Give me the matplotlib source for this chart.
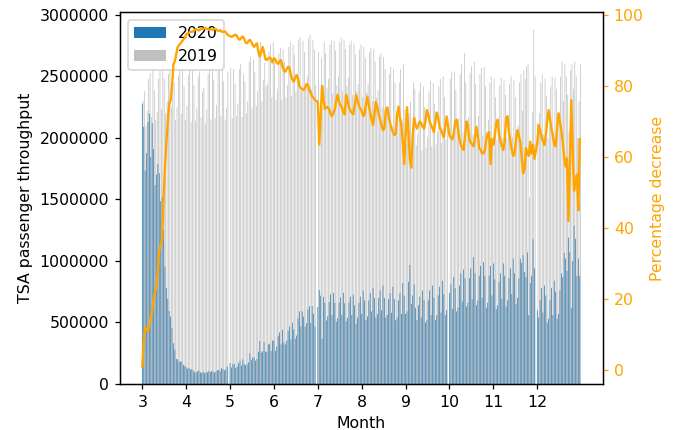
#!/usr/bin/env python
"""
TSA checkpoint throughput, 2020 against the same weekday of 2019,
with the percentage decrease on a second axis. Saves out.png.
"""

# importing libraries
import matplotlib
matplotlib.use("Agg")
import numpy as np
import pandas as pd
import matplotlib.pyplot as plt

# daily passengers in 2020 (thousands), one list per month
mar_2020 = [2280, 2090, 1736, 1877, 2130, 2199, 1845, 2120, 1909, 1617, 1703, 1788, 1714, 1486, 1519, 1258,
            954, 780, 693, 593, 548, 455, 331, 279, 204, 200, 180, 184, 180, 154, 146]
apr_2020 = [136, 124, 130, 118, 122, 108, 97, 95, 104, 109, 94, 91, 102, 88, 95, 96, 106, 97, 105, 102,
            93, 99, 112, 114, 104, 129, 120, 111, 120, 141]
may_2020 = [171, 134, 163, 163, 130, 140, 170, 190, 150, 200, 164, 152, 160, 176, 250, 193, 216, 215, 190, 204,
            262, 349, 254, 267, 341, 264, 261, 321, 327, 268, 353]
jun_2020 = [353, 268, 305, 391, 419, 322, 441, 338, 322, 351, 432, 467, 362, 498, 442, 369, 394, 532, 591, 470,
            590, 546, 466, 494, 606, 632, 496, 633, 572, 466]
jul_2020 = [626, 764, 718, 367, 708, 658, 516, 550, 666, 729, 561, 741, 658, 506, 534, 661, 705, 561, 741, 656,
            510, 538, 660, 710, 560, 727, 640, 490, 540, 660, 710]
aug_2020 = [570, 760, 680, 520, 550, 680, 740, 590, 780, 700, 540, 570, 700, 760, 600, 800, 700, 540, 560, 690,
            740, 580, 790, 690, 520, 540, 680, 740, 570, 820, 720]
sep_2020 = [570, 590, 830, 968, 650, 720, 810, 620, 520, 640, 710, 540, 760, 680, 500, 520, 680, 760, 560, 800,
            700, 520, 560, 720, 790, 580, 840, 730, 560, 600]
oct_2020 = [740, 810, 610, 870, 780, 590, 620, 800, 900, 670, 930, 860, 630, 660, 860, 940, 690, 1031, 900, 640,
            680, 880, 960, 700, 990, 880, 620, 660, 880, 960, 720]
nov_2020 = [980, 850, 610, 640, 830, 900, 690, 980, 880, 630, 680, 860, 940, 730, 1020, 900, 650, 700, 860, 1020,
            985, 1048, 910, 870, 1070, 560, 820, 880, 1177, 940]
dec_2020 = [600, 540, 680, 780, 580, 800, 720, 500, 530, 680, 780, 560, 840, 750, 530, 570, 760, 900, 870, 1066,
            1020, 920, 1190, 1070, 616, 1000, 1285, 1180, 880, 1020, 878]

# same weekday one year earlier (thousands)
mar_2019 = [2303, 2380, 2100, 2220, 2480, 2528, 2171, 2554, 2386, 2150, 2212, 2483, 2558, 2230, 2580, 2480,
            2200, 2300, 2520, 2560, 2250, 2560, 2450, 2146, 2250, 2500, 2550, 2200, 2571, 2420, 2150]
apr_2019 = [2260, 2510, 2560, 2130, 2550, 2430, 2140, 2240, 2500, 2540, 2170, 2380, 2410, 2120, 2230, 2520,
            2560, 2150, 2570, 2470, 2160, 2270, 2550, 2590, 2180, 2600, 2460, 2150, 2250, 2540]
may_2019 = [2570, 2160, 2560, 2440, 2180, 2280, 2560, 2600, 2170, 2520, 2460, 2200, 2300, 2620, 2660, 2240,
            2640, 2540, 2260, 2380, 2720, 2780, 2300, 2470, 2610, 2420, 2440, 2700, 2760, 2330, 2780]
jun_2019 = [2620, 2310, 2400, 2690, 2730, 2310, 2720, 2620, 2330, 2430, 2740, 2780, 2340, 2760, 2680, 2380,
            2480, 2800, 2820, 2380, 2790, 2700, 2410, 2500, 2810, 2840, 2400, 2800, 2720, 2430]
jul_2019 = [2700, 2090, 2650, 2250, 2780, 2690, 2410, 2480, 2760, 2800, 2360, 2790, 2710, 2430, 2500, 2780,
            2820, 2380, 2800, 2720, 2420, 2490, 2760, 2790, 2350, 2770, 2680, 2380, 2440, 2720, 2760]
aug_2019 = [2330, 2740, 2650, 2370, 2440, 2700, 2730, 2300, 2720, 2620, 2330, 2390, 2660, 2690, 2250, 2660,
            2560, 2200, 2250, 2520, 2580, 2100, 2560, 2450, 2080, 2150, 2450, 2560, 2150, 2600, 2230]
sep_2019 = [1950, 2050, 2200, 2300, 1800, 2450, 2400, 1940, 2030, 2380, 2450, 1900, 2420, 2250, 1920, 2010,
            2380, 2460, 1930, 2450, 2280, 1950, 2050, 2420, 2480, 1960, 2500, 2330, 1990, 2100]
oct_2019 = [2480, 2540, 2000, 2540, 2390, 2060, 2160, 2520, 2600, 2050, 2690, 2450, 2080, 2170, 2530, 2580,
            2030, 2620, 2440, 2070, 2180, 2520, 2570, 2020, 2580, 2420, 2050, 2150, 2450, 2500, 1980]
nov_2019 = [2480, 2330, 1990, 2080, 2430, 2490, 2000, 2470, 2350, 2000, 2100, 2440, 2500, 2010, 2470, 2330,
            1990, 2100, 2450, 2520, 2220, 2550, 2480, 2580, 2600, 1520, 1950, 2210, 2880, 2500]
dec_2019 = [2120, 2200, 2450, 2520, 2030, 2480, 2340, 2000, 2100, 2420, 2500, 2050, 2490, 2400, 2080, 2200,
            2500, 2620, 2300, 2600, 2500, 2350, 2050, 2550, 2600, 2400, 2620, 2500, 2000, 2300, 2600]

# percentage decrease
mar_pct = [1, 8, 12, 11.5, 11, 13, 15, 17, 20, 22, 23.5, 28, 34, 35, 37, 48, 57, 64, 70, 75, 76, 80, 86, 87,
           89, 91, 91.5, 92, 92.5, 93, 93.5]
apr_pct = [94.5, 94.8, 95, 95.3, 95.2, 95.4, 95.8, 96, 95.8, 95.6, 95.9, 96.1, 96, 96.3, 96.2, 96, 95.8, 96,
           95.9, 95.8, 96.1, 96, 95.6, 95.5, 95.7, 95.3, 95.2, 95.4, 95.1, 94.5]
may_pct = [94, 93.8, 94, 94.3, 94.4, 94, 93.2, 93, 93.6, 93.9, 93.2, 92.2, 92, 92.6, 93, 92.4, 91.5, 91, 91.6,
           92, 89.5, 88.3, 89.5, 91, 89.5, 87.5, 87.3, 87.8, 88, 87.6, 86.6]
jun_pct = [87.8, 87.5, 86.5, 86.2, 87, 87.3, 85.5, 84.3, 84, 84.8, 85.4, 85, 83, 81.8, 81.2, 82.2, 83.1, 82, 80,
           79.4, 79, 78.9, 79.5, 80.5, 80.3, 78.8, 78, 77, 76.6, 76]
jul_pct = [75.5, 63.5, 72, 80, 76, 73.5, 74, 74, 73.5, 72, 71.5, 72.5, 73.5, 76, 77.5, 75.5, 74.5, 74, 72.5, 72,
           77.5, 76, 74, 73, 72.5, 72, 74.5, 77.5, 76, 74.5, 73.5]
aug_pct = [73, 71.5, 72, 75, 77, 74.5, 72.5, 70.5, 69, 72, 75.5, 74, 72, 70.5, 69, 67.5, 68, 73, 74, 71.5, 69.5,
           68, 67, 66.2, 66.5, 72, 74.2, 71, 69, 64, 58]
sep_pct = [66, 74, 67, 59, 57, 66, 71, 69, 68, 69, 70, 69.5, 68.5, 68, 70, 73.2, 72, 70, 69, 68, 67, 70, 72.5,
           71, 68.5, 67.5, 66.5, 65.5, 68.5, 71.4]
oct_pct = [66, 65.5, 65, 66.5, 70, 70.5, 68, 65, 63.5, 62.5, 62, 66, 70, 69, 65, 64, 63.5, 63, 65.5, 68.5, 66,
           62.5, 62, 61, 61, 62, 65, 66.5, 67, 58, 65]
nov_pct = [63.5, 66, 69.5, 70.5, 66.5, 64.3, 63, 62, 64.5, 71, 71.5, 67, 64.3, 62, 60.3, 61, 65, 67.6, 66, 64.3,
           60, 55.4, 56.5, 62.5, 61, 60.3, 64.3, 61, 63.4, 59.5]
dec_pct = [64, 69, 67.5, 65.5, 64.5, 63.4, 66, 70, 73.2, 70.5, 68, 66, 63.5, 63, 68, 72.3, 70, 67.6, 64, 60, 57.3,
           59.6, 42, 58, 76, 62, 50.5, 53, 55, 45, 65]


def main():
    # joining the months together and converting thousands to passengers
    throughput_2020 = np.array(mar_2020 + apr_2020 + may_2020 + jun_2020 + jul_2020
                               + aug_2020 + sep_2020 + oct_2020 + nov_2020 + dec_2020) * 1000
    throughput_2019 = np.array(mar_2019 + apr_2019 + may_2019 + jun_2019 + jul_2019
                               + aug_2019 + sep_2019 + oct_2019 + nov_2019 + dec_2019) * 1000
    decrease = np.array(mar_pct + apr_pct + may_pct + jun_pct + jul_pct
                        + aug_pct + sep_pct + oct_pct + nov_pct + dec_pct)

    # position of each day on a month axis
    dates = pd.date_range("2020-03-01", "2020-12-31", freq="D")
    month_pos = np.asarray(dates.month + (dates.day - 1) / 31)
    bar_w = 1 / 62

    fig, ax1 = plt.subplots(figsize=(678 / 113, 430 / 113), dpi=113)
    fig.subplots_adjust(left=0.177, right=0.889, bottom=0.107, top=0.972)

    # side by side bars for the two years
    ax1.bar(month_pos, throughput_2020, width=bar_w, color="tab:blue", label="2020", snap=False)
    ax1.bar(month_pos + bar_w, throughput_2019, width=bar_w, color="gray", alpha=0.5, label="2019", snap=False)
    ax1.set_ylim(0, 3024000)
    ax1.ticklabel_format(axis="y", style="plain")
    ax1.set_xticks(range(3, 13))
    ax1.set_xlabel("Month")
    ax1.set_ylabel("TSA passenger throughput")
    ax1.legend(loc="upper left")

    # percentage decrease on the right axis
    ax2 = ax1.twinx()
    ax2.plot(month_pos, decrease, color="orange")
    ax2.set_ylim(-3.9, 100.8)
    ax2.set_ylabel("Percentage decrease", color="orange")
    ax2.tick_params(axis="y", colors="orange")

    fig.savefig("out.png")


if __name__ == "__main__":
    main()
